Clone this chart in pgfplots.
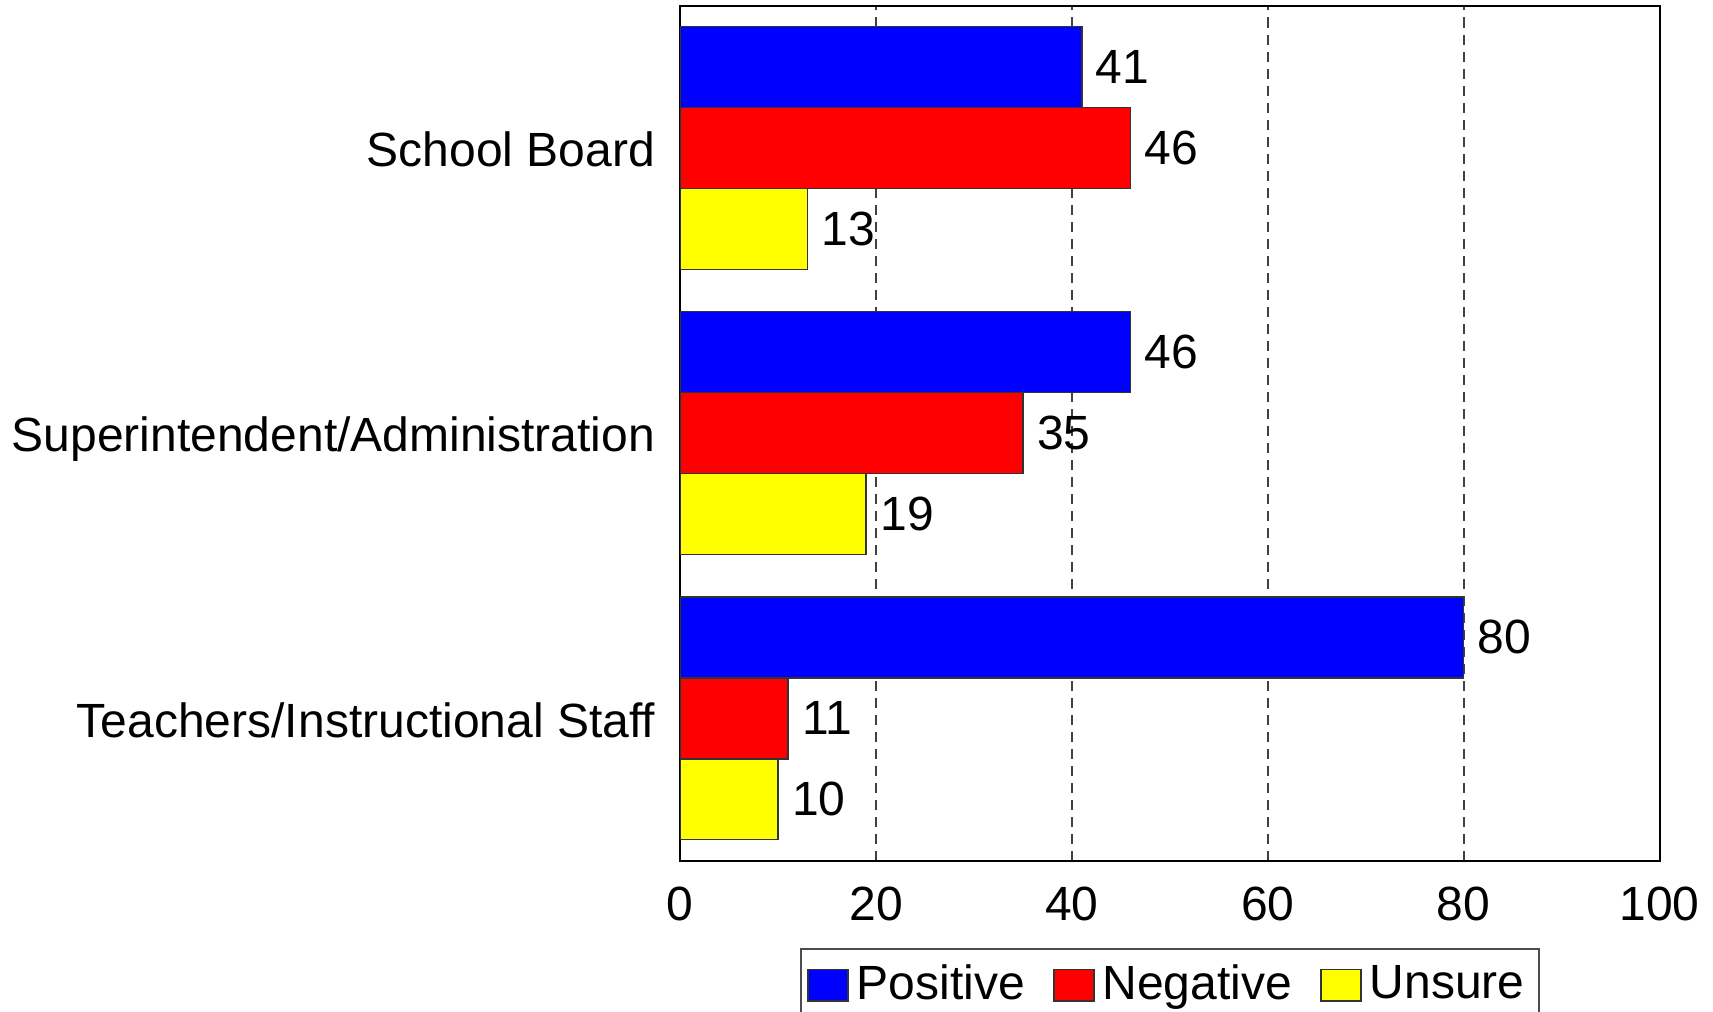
\documentclass[border=0pt]{standalone}
\usepackage{fontspec}
\setmainfont{Liberation Sans}
\usepackage{pgfplots}
\pgfplotsset{compat=1.18}
\definecolor{posblue}{RGB}{0,0,255}
\definecolor{negred}{RGB}{255,0,0}
\definecolor{unsyellow}{RGB}{255,255,0}
\newcommand{\chartfont}{\fontsize{12}{14}\selectfont}

\begin{document}
\begin{tikzpicture}
\begin{axis}[
  scale only axis, width=244.75pt, height=213.75pt,
  xbar, bar width=0.284,
  xmin=0, xmax=100, ymin=-0.5, ymax=2.5,
  xtick={0,20,40,60,80,100}, ytick={0,1,2},
  yticklabels={Teachers/Instructional Staff,Superintendent/Administration,School Board},
  major tick length=0pt,
  axis line style={black, line width=0.5pt},
  xmajorgrids, grid style={black!75, line width=0.45pt, dash pattern=on 2.5pt off 1.75pt},
  tick label style={font=\chartfont},
  xticklabel style={yshift=-3pt},
  yticklabel style={xshift=-2.75pt, text height=8.6pt, text depth=0pt, yshift=-0.4pt},
  /pgf/number format/assume math mode=true,
  nodes near coords,
  every node near coord/.append style={font=\chartfont, black},
  legend columns=-1,
  legend style={at={(0.5,-0.1018)}, anchor=north, draw=black!70, line width=0.5pt,
    font=\chartfont, inner xsep=1.6pt, inner ysep=2pt,
    /tikz/every even column/.append style={column sep=5pt}},
  legend image code/.code={\draw[#1, draw=black!80, line width=0.4pt] (0pt,-3.9pt) rectangle (10pt,3.9pt);},
]
\addplot[fill=posblue, draw=black!80, line width=0.4pt, bar shift=0.284] coordinates {(41,2) (46,1) (80,0)};
\addplot[fill=negred, draw=black!80, line width=0.4pt, bar shift=0] coordinates {(46,2) (35,1) (11,0)};
\addplot[fill=unsyellow, draw=black!80, line width=0.4pt, bar shift=-0.284] coordinates {(13,2) (19,1) (10,0)};
\legend{Positive,Negative,Unsure}
\end{axis}
\pgfresetboundingbox
\path[use as bounding box] ([xshift=-170pt,yshift=-37.75pt]current axis.south west) rectangle ([xshift=13.375pt,yshift=1.375pt]current axis.north east);
\end{tikzpicture}
\end{document}
